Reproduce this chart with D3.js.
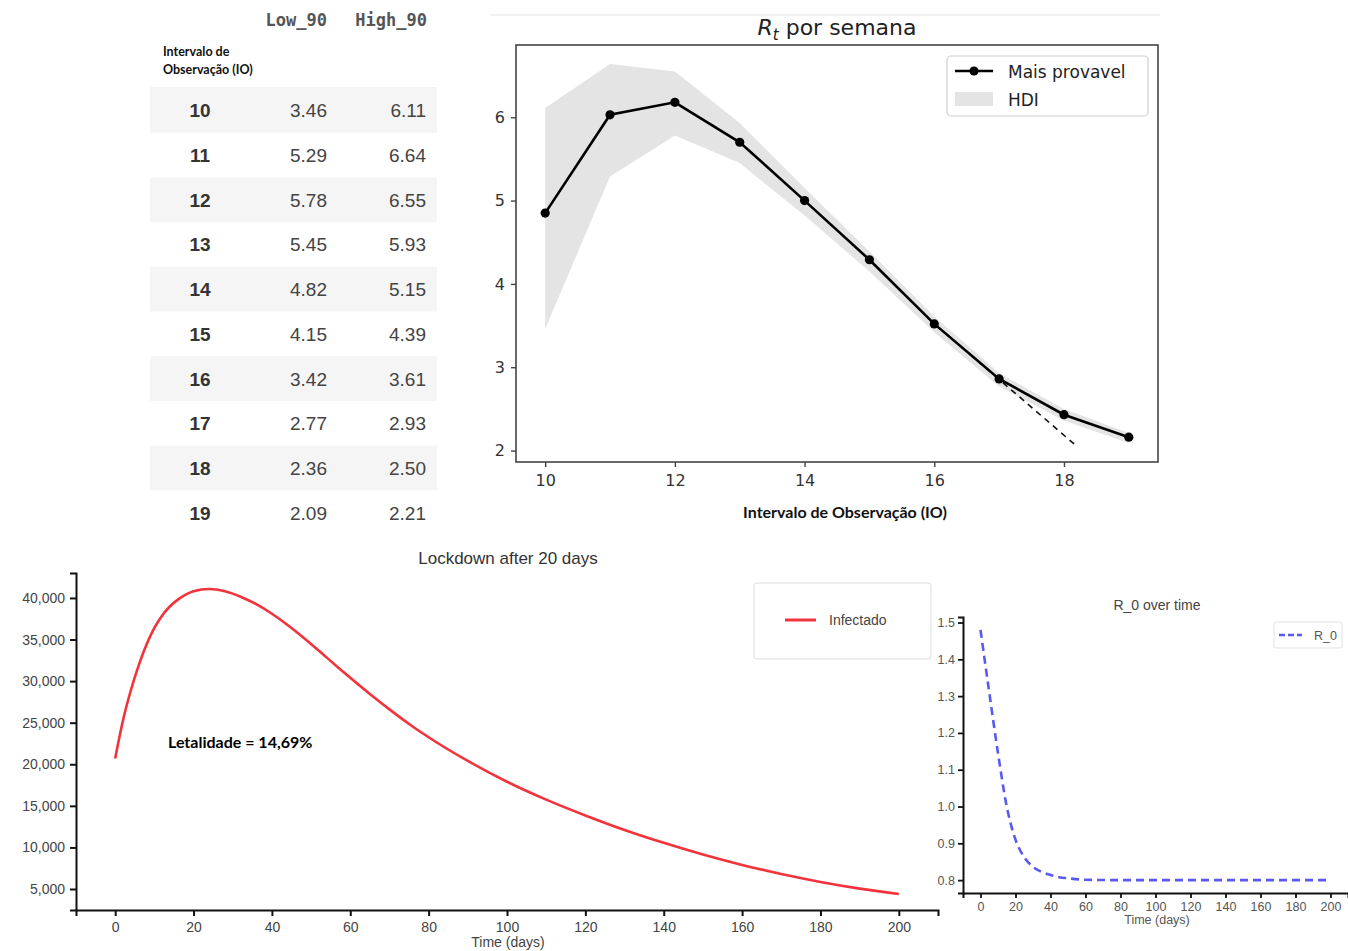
<!DOCTYPE html>
<html>
<head>
<meta charset="utf-8">
<script src="https://cdn.jsdelivr.net/npm/d3@7"></script>
<style>
  body { margin: 0; background: #fff; }
  svg { display: block; }
</style>
</head>
<body>
<svg id="fig" width="1348" height="951"></svg>
<script>
// table / Rt chart data
const io = [10, 11, 12, 13, 14, 15, 16, 17, 18, 19];
const low90 = [3.46, 5.29, 5.78, 5.45, 4.82, 4.15, 3.42, 2.77, 2.36, 2.09];
const high90 = [6.11, 6.64, 6.55, 5.93, 5.15, 4.39, 3.61, 2.93, 2.50, 2.21];
const maisProvavel = [4.85, 6.03, 6.18, 5.70, 5.00, 4.29, 3.52, 2.86, 2.43, 2.16];
const tendX = [15.9, 18.2];
const tendY = [3.59, 2.05];
const rtXTicks = [10, 12, 14, 16, 18];
const rtYTicks = [2, 3, 4, 5, 6];

// infected curve (lockdown after 20 days)
const days = [0, 2, 4, 6, 8, 10, 12, 14, 16, 18, 20, 24, 28, 32, 36, 40, 44, 48, 52, 56, 60, 65, 70, 75, 80, 90, 100, 110, 120, 130, 140, 150, 160, 170, 180, 190, 200];
const infectado = [20700, 25300, 28900, 31900, 34400, 36400, 37900, 39000, 39800, 40400, 40800, 41080, 40800, 40150, 39250, 38100, 36750, 35250, 33650, 32000, 30400, 28450, 26600, 24850, 23250, 20400, 17900, 15750, 13850, 12100, 10550, 9150, 7900, 6800, 5850, 5050, 4400];
const infYTicks = [5000, 10000, 15000, 20000, 25000, 30000, 35000, 40000];
const dayTicks = [0, 20, 40, 60, 80, 100, 120, 140, 160, 180, 200];

// R_0 over time
const r0Days = [0, 5, 10, 15, 20, 25, 30, 35, 40, 45, 50, 60, 80, 100, 120, 140, 160, 180, 200];
const r0 = [1.48, 1.31, 1.145, 1.0, 0.91, 0.862, 0.836, 0.822, 0.814, 0.808, 0.805, 0.801, 0.80, 0.80, 0.80, 0.80, 0.80, 0.80, 0.80];
const r0YTicks = [0.8, 0.9, 1.0, 1.1, 1.2, 1.3, 1.4, 1.5];

const svg = d3.select("#fig");
svg.append("rect").attr("width", 1348).attr("height", 951).attr("fill", "#fff");

const mpl = "DejaVu Sans";
const arial = "Liberation Sans, Arial";
const calibri = "Lato, Open Sans";

// ---------- table ----------
const rowH = 44.7, row0 = 88;
const table = svg.append("g");
table.append("text").attr("x", 327).attr("y", 26).attr("text-anchor", "end")
    .attr("font-family", "DejaVu Sans Mono").attr("font-weight", "bold")
    .attr("font-size", 17).attr("fill", "#555").text("Low_90");
table.append("text").attr("x", 427).attr("y", 26).attr("text-anchor", "end")
    .attr("font-family", "DejaVu Sans Mono").attr("font-weight", "bold")
    .attr("font-size", 17).attr("fill", "#555").text("High_90");
table.append("text").attr("font-family", calibri).attr("font-weight", "bold")
    .attr("font-size", 12.5).attr("fill", "#111")
  .selectAll("tspan").data(["Intervalo de", "Observação (IO)"]).join("tspan")
    .attr("x", 163).attr("y", (d, i) => 56 + i * 18).text(d => d);
table.append("line").attr("x1", 150).attr("x2", 437).attr("y1", row0).attr("y2", row0)
    .attr("stroke", "#e6e6e6");

const rows = table.selectAll("g.row").data(io).join("g")
    .attr("transform", (d, i) => `translate(0,${row0 + i * rowH})`);
rows.filter((d, i) => i % 2 === 0).append("rect")
    .attr("x", 150).attr("width", 287).attr("height", rowH).attr("fill", "#f5f5f5");
rows.append("text").attr("x", 200).attr("y", rowH / 2 + 7).attr("text-anchor", "middle")
    .attr("font-family", arial).attr("font-weight", "bold").attr("font-size", 19)
    .attr("fill", "#333").text(d => d);
rows.append("text").attr("x", 327).attr("y", rowH / 2 + 7).attr("text-anchor", "end")
    .attr("font-family", arial).attr("font-size", 19).attr("fill", "#444")
    .text((d, i) => low90[i].toFixed(2));
rows.append("text").attr("x", 426).attr("y", rowH / 2 + 7).attr("text-anchor", "end")
    .attr("font-family", arial).attr("font-size", 19).attr("fill", "#444")
    .text((d, i) => high90[i].toFixed(2));

// ---------- Rt chart ----------
svg.append("line").attr("x1", 490).attr("x2", 1160).attr("y1", 15).attr("y2", 15)
    .attr("stroke", "#f2f2f2").attr("stroke-width", 2);

const rx = d3.scaleLinear().domain([9.55, 19.45]).range([516, 1158]);
const ry = d3.scaleLinear().domain([1.8625, 6.8675]).range([462, 45]);
const rt = svg.append("g");

rt.append("path")
    .datum(io)
    .attr("fill", "#e4e4e4")
    .attr("d", d3.area().x(d => rx(d)).y0((d, i) => ry(low90[i])).y1((d, i) => ry(high90[i])));

rt.append("path")
    .datum(tendX)
    .attr("fill", "none").attr("stroke", "#111").attr("stroke-width", 1.6)
    .attr("stroke-dasharray", "6,5")
    .attr("d", d3.line().x(d => rx(d)).y((d, i) => ry(tendY[i])));

rt.append("path")
    .datum(io)
    .attr("fill", "none").attr("stroke", "#000").attr("stroke-width", 2.6)
    .attr("d", d3.line().x(d => rx(d)).y((d, i) => ry(maisProvavel[i])));

rt.selectAll("circle").data(io).join("circle")
    .attr("cx", d => rx(d)).attr("cy", (d, i) => ry(maisProvavel[i]))
    .attr("r", 4.6).attr("fill", "#000");

rt.append("rect").attr("x", 516).attr("y", 45).attr("width", 642).attr("height", 417)
    .attr("fill", "none").attr("stroke", "#444").attr("stroke-width", 1.6);

const rtX = rt.append("g").attr("transform", "translate(0,462)")
    .call(d3.axisBottom(rx).tickValues(rtXTicks).tickFormat(d3.format("d"))
      .tickSize(5).tickSizeOuter(0).tickPadding(8));
const rtY = rt.append("g").attr("transform", "translate(516,0)")
    .call(d3.axisLeft(ry).tickValues(rtYTicks).tickFormat(d3.format("d"))
      .tickSize(5).tickSizeOuter(0).tickPadding(6));
[rtX, rtY].forEach(a => {
  a.select(".domain").remove();
  a.selectAll("line").attr("stroke", "#444").attr("stroke-width", 1.4);
  a.selectAll("text").attr("font-family", mpl).attr("font-size", 16).attr("fill", "#333");
});

rt.append("text").attr("x", 837).attr("y", 35).attr("text-anchor", "middle")
    .attr("font-family", mpl).attr("font-size", 22).attr("fill", "#222")
  .call(t => {
    t.append("tspan").attr("font-style", "italic").text("R");
    t.append("tspan").attr("font-style", "italic").attr("font-size", 15).attr("dy", 5).text("t");
    t.append("tspan").attr("dy", -5).text(" por semana");
  });

rt.append("text").attr("x", 845).attr("y", 518).attr("text-anchor", "middle")
    .attr("font-family", calibri).attr("font-weight", "bold").attr("font-size", 16)
    .attr("fill", "#111").text("Intervalo de Observação (IO)");

const lg = rt.append("g");
lg.append("rect").attr("x", 947).attr("y", 56).attr("width", 201).attr("height", 60)
    .attr("rx", 4).attr("fill", "#fff").attr("stroke", "#d0d0d0").attr("stroke-width", 1.2);
lg.append("line").attr("x1", 955).attr("x2", 993).attr("y1", 71).attr("y2", 71)
    .attr("stroke", "#000").attr("stroke-width", 2.6);
lg.append("circle").attr("cx", 974).attr("cy", 71).attr("r", 4.6).attr("fill", "#000");
lg.append("rect").attr("x", 955).attr("y", 92).attr("width", 38).attr("height", 14).attr("fill", "#e4e4e4");
lg.append("text").attr("x", 1008).attr("y", 78).attr("font-family", mpl).attr("font-size", 17)
    .attr("fill", "#222").text("Mais provavel");
lg.append("text").attr("x", 1008).attr("y", 106).attr("font-family", mpl).attr("font-size", 17)
    .attr("fill", "#222").text("HDI");

// ---------- Lockdown chart ----------
const ix = d3.scaleLinear().domain([-10, 210]).range([76, 938]);
const iy = d3.scaleLinear().domain([2476, 43000]).range([910, 573]);
const inf = svg.append("g");

inf.append("text").attr("x", 508).attr("y", 564).attr("text-anchor", "middle")
    .attr("font-family", arial).attr("font-size", 17).attr("fill", "#333")
    .text("Lockdown after 20 days");

inf.append("path")
    .datum(days)
    .attr("fill", "none").attr("stroke", "#f2333b").attr("stroke-width", 2.6)
    .attr("d", d3.line().curve(d3.curveMonotoneX).x(d => ix(d)).y((d, i) => iy(infectado[i])));

const infX = inf.append("g").attr("transform", "translate(0,910)")
    .call(d3.axisBottom(ix).tickValues(dayTicks).tickSize(6).tickPadding(6));
const infY = inf.append("g").attr("transform", "translate(76,0)")
    .call(d3.axisLeft(iy).tickValues(infYTicks).tickFormat(d3.format(",")).tickSize(6).tickPadding(5));
[infX, infY].forEach(a => {
  a.select(".domain").attr("stroke", "#111").attr("stroke-width", 2);
  a.selectAll("line").attr("stroke", "#111").attr("stroke-width", 2);
  a.selectAll("text").attr("font-family", arial).attr("font-size", 14).attr("fill", "#444");
});
inf.append("text").attr("x", 508).attr("y", 947).attr("text-anchor", "middle")
    .attr("font-family", arial).attr("font-size", 14).attr("fill", "#444").text("Time (days)");

inf.append("text").attr("x", 168).attr("y", 748)
    .attr("font-family", calibri).attr("font-weight", "bold").attr("font-size", 16)
    .attr("fill", "#000").text("Letalidade = 14,69%");

inf.append("rect").attr("x", 754).attr("y", 583).attr("width", 177).attr("height", 76)
    .attr("rx", 3).attr("fill", "#fff").attr("stroke", "#dcdcdc");
inf.append("line").attr("x1", 785).attr("x2", 816).attr("y1", 620).attr("y2", 620)
    .attr("stroke", "#f2333b").attr("stroke-width", 3);
inf.append("text").attr("x", 829).attr("y", 625).attr("font-family", arial).attr("font-size", 14)
    .attr("fill", "#444").text("Infectado");

// ---------- R_0 chart ----------
const zx = d3.scaleLinear().domain([-10, 210]).range([963, 1348]);
const zy = d3.scaleLinear().domain([0.765, 1.515]).range([893, 617]);
const rz = svg.append("g");

rz.append("text").attr("x", 1157).attr("y", 610).attr("text-anchor", "middle")
    .attr("font-family", arial).attr("font-size", 14).attr("fill", "#444").text("R_0 over time");

rz.append("path")
    .datum(r0Days)
    .attr("fill", "none").attr("stroke", "#5a5af0").attr("stroke-width", 2.6)
    .attr("stroke-dasharray", "8,5")
    .attr("d", d3.line().curve(d3.curveMonotoneX).x(d => zx(d)).y((d, i) => zy(r0[i])));

const zX = rz.append("g").attr("transform", "translate(0,893)")
    .call(d3.axisBottom(zx).tickValues(dayTicks).tickSize(5).tickPadding(4));
const zY = rz.append("g").attr("transform", "translate(963,0)")
    .call(d3.axisLeft(zy).tickValues(r0YTicks).tickFormat(d3.format(".1f")).tickSize(5).tickPadding(3));
[zX, zY].forEach(a => {
  a.select(".domain").attr("stroke", "#111").attr("stroke-width", 2);
  a.selectAll("line").attr("stroke", "#111").attr("stroke-width", 1.8);
  a.selectAll("text").attr("font-family", arial).attr("font-size", 12.5).attr("fill", "#555");
});
rz.append("text").attr("x", 1157).attr("y", 924).attr("text-anchor", "middle")
    .attr("font-family", arial).attr("font-size", 12.5).attr("fill", "#555").text("Time (days)");

rz.append("rect").attr("x", 1274).attr("y", 622).attr("width", 68).attr("height", 26)
    .attr("rx", 2).attr("fill", "#fff").attr("stroke", "#e2e2e2");
rz.append("line").attr("x1", 1279).attr("x2", 1302).attr("y1", 635).attr("y2", 635)
    .attr("stroke", "#5a5af0").attr("stroke-width", 2.6).attr("stroke-dasharray", "6,3");
rz.append("text").attr("x", 1314).attr("y", 640).attr("font-family", arial).attr("font-size", 12.5)
    .attr("fill", "#555").text("R_0");
</script>
</body>
</html>
